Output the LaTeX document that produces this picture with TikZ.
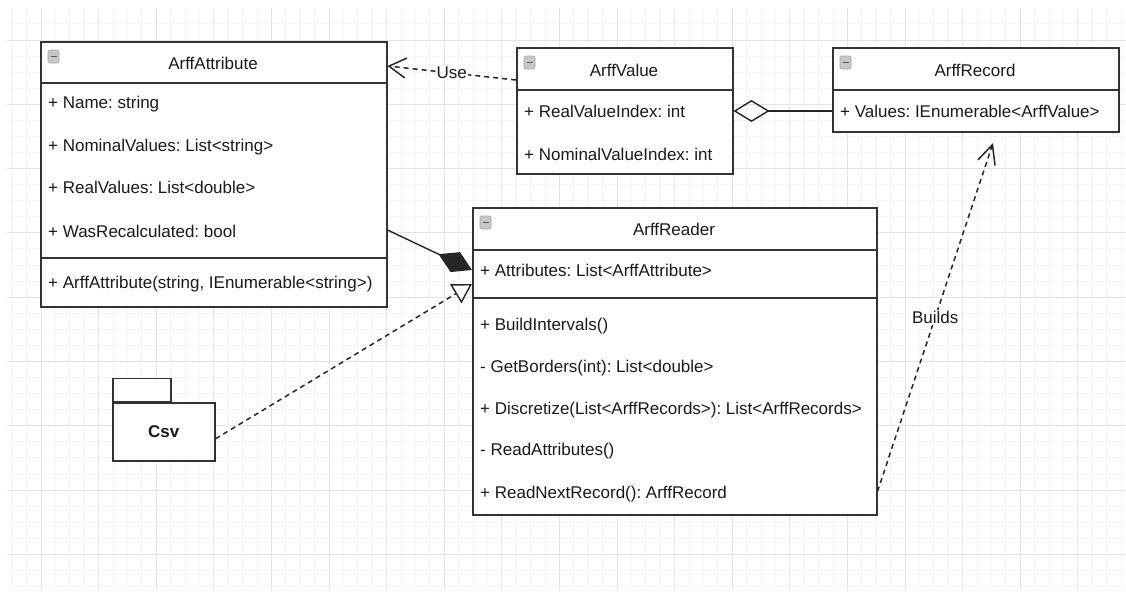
\documentclass[tikz,border=0pt]{standalone}
\usepackage{fontspec}
\setmainfont{Liberation Sans}
\usepackage{xcolor}
\usetikzlibrary{arrows.meta,positioning,calc}
\frenchspacing

\definecolor{boxline}{HTML}{333333}
\definecolor{gridmajor}{HTML}{E3E3E3}
\definecolor{gridminor}{HTML}{F5F5F5}
\definecolor{membertext}{HTML}{1A1A1A}

\begin{document}
\begin{tikzpicture}[x=1pt,y=-1pt,
  classbox/.style={draw=boxline, line width=1.5pt, fill=white, inner sep=0pt, anchor=north west},
  title/.style={inner sep=0pt, font=\fontsize{17}{20}\selectfont, text=membertext},
  member/.style={anchor=west, inner sep=0pt, font=\fontsize{17}{20}\selectfont, text=membertext},
  icon/.style={draw=black!35, fill=black!22, rounded corners=2pt, line width=0.6pt},
  rel/.style={line width=1.4pt, draw=black!85},
  dep/.style={rel, line width=1.5pt, dash pattern=on 5pt off 4pt},
  lbl/.style={fill=white, inner sep=1pt, font=\fontsize{17}{20}\selectfont, text=membertext}]
\useasboundingbox (0,0) rectangle (1126,603);

% Background grid
\begin{scope}
\clip (7,8) rectangle (1126,590);
\foreach \k in {-2,...,75} \draw[gridminor, line width=1pt] ({41+14.4*\k},8) -- ({41+14.4*\k},590);
\foreach \k in {-2,...,34} \draw[gridminor, line width=1pt] (7,{40+16.075*\k}) -- (1126,{40+16.075*\k});
\foreach \k in {0,...,18} \draw[gridmajor, line width=1pt] ({41+57.6*\k},8) -- ({41+57.6*\k},590);
\foreach \k in {0,...,8} \draw[gridmajor, line width=1pt] (7,{40+64.3*\k}) -- (1126,{40+64.3*\k});
\end{scope}

% Classes
\node[classbox, minimum width=346, minimum height=265] (attr) at (40,41) {};
\node[classbox, minimum width=216, minimum height=126] (value) at (516,47) {};
\node[classbox, minimum width=286, minimum height=84] (record) at (832,47) {};
\node[classbox, minimum width=404, minimum height=307] (reader) at (472,207) {};

% Compartment lines
\draw[boxline, line width=1.5pt] ($(attr.north west)+(0,42)$) -- ($(attr.north east)+(0,42)$);
\draw[boxline, line width=1.5pt] ($(attr.north west)+(0,217)$) -- ($(attr.north east)+(0,217)$);
\draw[boxline, line width=1.5pt] ($(value.north west)+(0,43)$) -- ($(value.north east)+(0,43)$);
\draw[boxline, line width=1.5pt] ($(record.north west)+(0,43)$) -- ($(record.north east)+(0,43)$);
\draw[boxline, line width=1.5pt] ($(reader.north west)+(0,43)$) -- ($(reader.north east)+(0,43)$);
\draw[boxline, line width=1.5pt] ($(reader.north west)+(0,91)$) -- ($(reader.north east)+(0,91)$);

% Collapse icons
\foreach \c in {attr,value,record,reader} {
  \draw[icon] ($(\c.north west)+(8,9)$) rectangle ++(11,13);
  \draw[black!65, line width=1.6pt] ($(\c.north west)+(10.5,15.5)$) -- ++(6,0);
}

% Titles
\node[title] (attrtitle) at (213,63) {ArffAttribute};
\node[title] (valuetitle) at (624,70) {ArffValue};
\node[title] (recordtitle) at (975,70) {ArffRecord};
\node[title] (readertitle) at (674,229) {ArffReader};

% Members
\foreach \y/\t [count=\i] in {104/{+ Name: string}, 147/{+ NominalValues: List<string>},
    187/{+ RealValues: List<double>}, 231/{+ WasRecalculated: bool},
    284/{+ ArffAttribute(string, IEnumerable<string>)}}
  \node[member] (attrm\i) at (48,\y) {\t};
\foreach \y/\t [count=\i] in {111/{+ RealValueIndex: int}, 154/{+ NominalValueIndex: int}}
  \node[member] (valuem\i) at (524,\y) {\t};
\node[member] (recordm1) at (840,111) {+ Values: IEnumerable<ArffValue>};
\foreach \y/\t [count=\i] in {270/{+ Attributes: List<ArffAttribute>}, 326/{+ BuildIntervals()},
    368/{- GetBorders(int): List<double>}, 410/{+ Discretize(List<ArffRecords>): List<ArffRecords>},
    451/{- ReadAttributes()}, 494/{+ ReadNextRecord(): ArffRecord}}
  \node[member] (readerm\i) at (480,\y) {\t};

% Package
\node[classbox, minimum width=102, minimum height=58] (csv) at (112,402) {};
\node[classbox, anchor=south west, minimum width=58, minimum height=23] (csvtab) at (csv.north west) {};
\node[title, font=\fontsize{17}{20}\selectfont\bfseries] (csvtitle) at (csv.center) {Csv};

% Relations
\draw[dep, -{Straight Barb[length=17pt, width=20pt]}] ($(value.north west)+(0,33)$)
  -- node[lbl] (uselbl) {Use} ($(attr.north east)+(0,25)$);
\draw[rel, -{Diamond[open, length=36pt, width=22pt, line width=1.4pt]}] ($(record.north west)+(0,64)$)
  -- ($(value.north east)+(0,64)$);
\draw[rel, -{Diamond[length=37pt, width=22pt]}] ($(attr.north east)+(0,189)$)
  -- ($(reader.north west)+(0,63)$);
\draw[dep, -{Triangle[open, length=19pt, width=22pt, line width=1.4pt]}] ($(csv.east)+(0,7)$)
  -- ($(reader.north west)+(0,77)$);
\coordinate (buildend) at (993,143);
\draw[dep, -{Straight Barb[length=19pt, width=18pt]}] ($(reader.south east)+(0,-24)$)
  -- node[lbl] (buildslbl) {Builds} (buildend);

\end{tikzpicture}
\end{document}
